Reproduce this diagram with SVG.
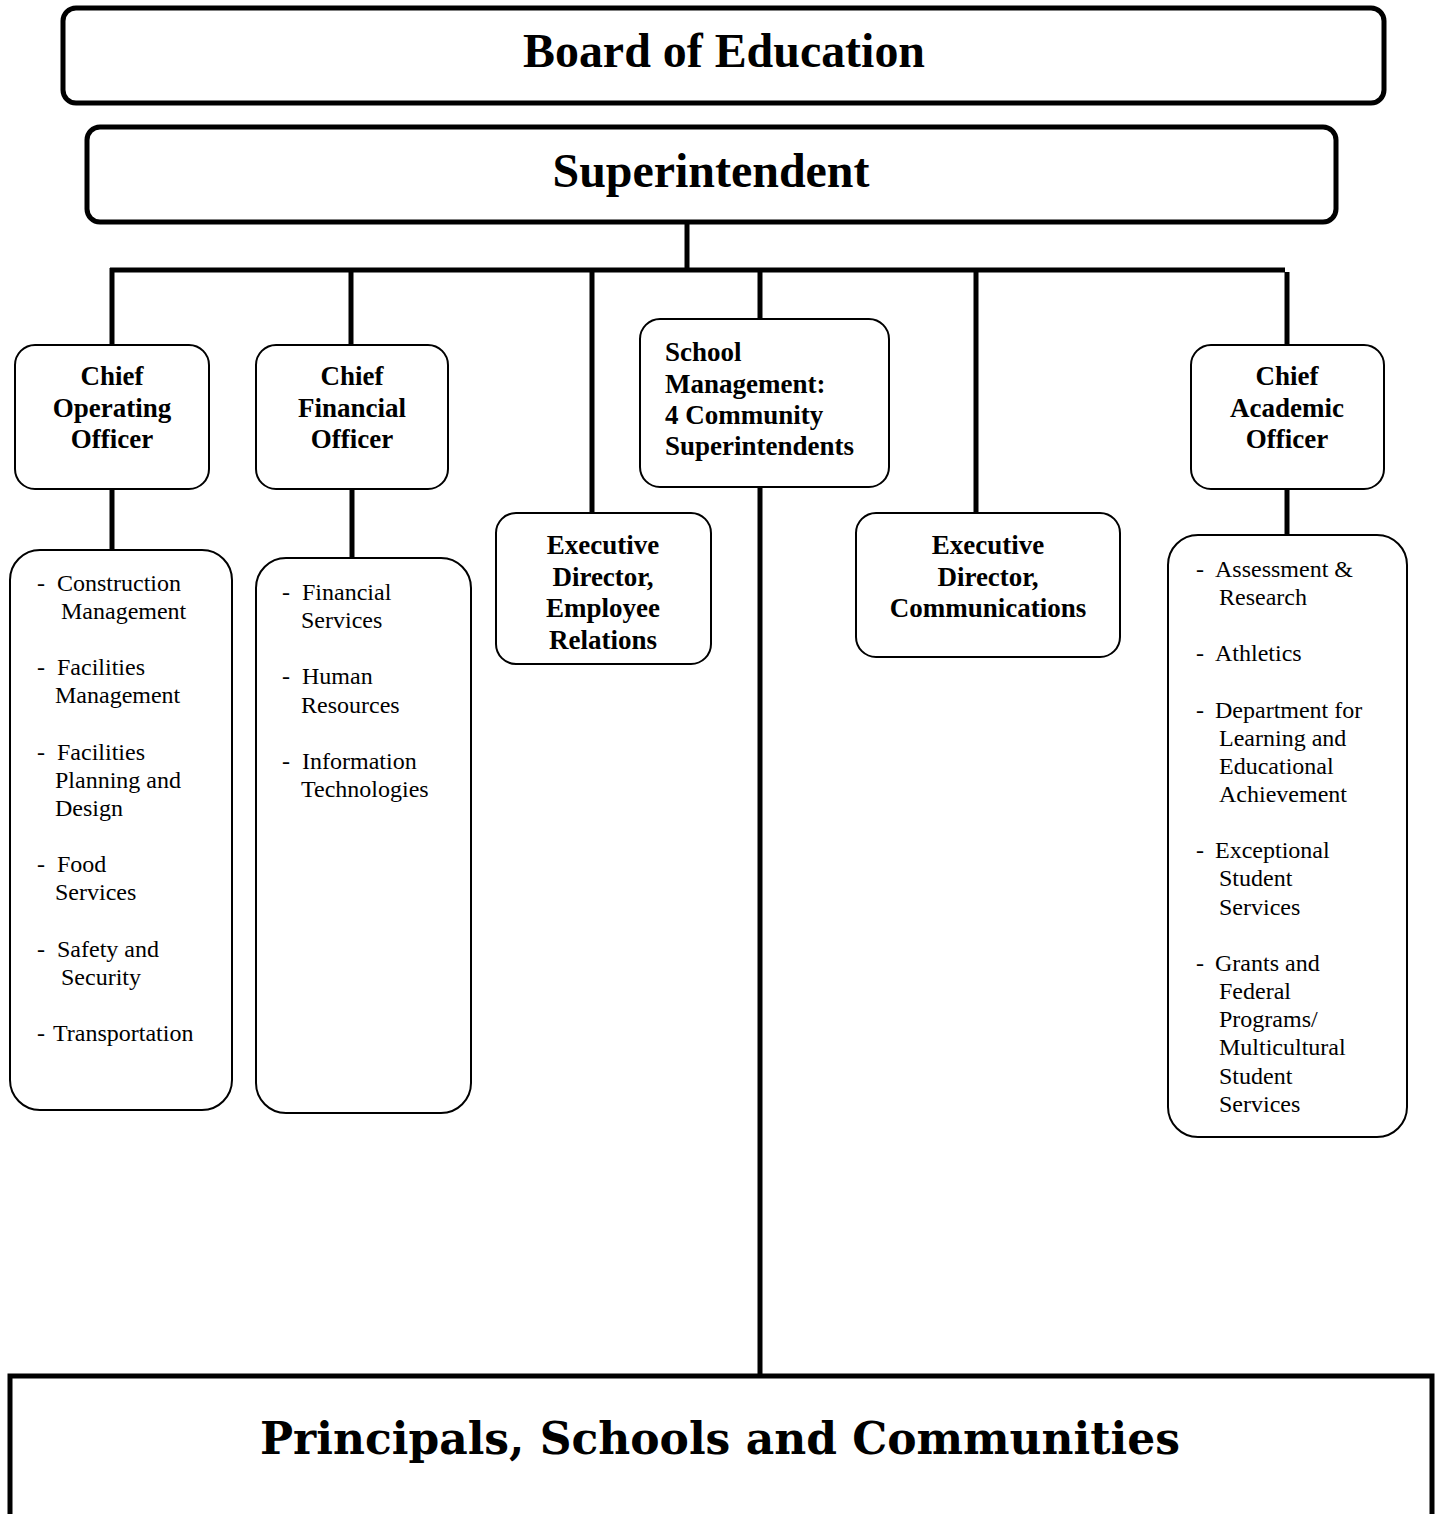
<svg xmlns="http://www.w3.org/2000/svg" width="1439" height="1514" viewBox="0 0 1439 1514">
<style>
.big{fill:#fff;stroke:#000;stroke-width:5}
.box{fill:#fff;stroke:#000;stroke-width:2}
.conn line{stroke:#000;stroke-width:5}
.t1{font-family:"Liberation Serif",serif;font-weight:bold;text-anchor:middle}
.tb{font-family:"Liberation Serif",serif;font-weight:bold;font-size:27px}
.tl{font-family:"Liberation Serif",serif;font-size:24px}
.tc{text-anchor:middle}
</style>
<rect width="1439" height="1514" fill="#fff"/>
<g class="conn" id="connectors">
<line x1="687" y1="222" x2="687" y2="272"/>
<line x1="110" y1="270" x2="1285" y2="270"/>
<line x1="112" y1="268" x2="112" y2="346"/>
<line x1="351" y1="270" x2="351" y2="346"/>
<line x1="592" y1="270" x2="592" y2="514"/>
<line x1="760" y1="270" x2="760" y2="320"/>
<line x1="976" y1="270" x2="976" y2="514"/>
<line x1="1287" y1="272" x2="1287" y2="346"/>
<line x1="112" y1="488" x2="112" y2="551"/>
<line x1="352" y1="488" x2="352" y2="559"/>
<line x1="1287" y1="488" x2="1287" y2="536"/>
<line x1="760" y1="486" x2="760" y2="1376"/>
</g>
<g id="board">
<rect class="big" x="63" y="8" width="1321" height="95" rx="13"/>
<text class="t1" x="724" y="67" font-size="48" textLength="402" lengthAdjust="spacingAndGlyphs">Board of Education</text>
</g>
<g id="superintendent">
<rect class="big" x="87" y="127" width="1249" height="95" rx="13"/>
<text class="t1" x="711" y="187" font-size="48" textLength="317" lengthAdjust="spacingAndGlyphs">Superintendent</text>
</g>
<g id="coo">
<rect class="box" x="15" y="345" width="194" height="144" rx="20"/>
<text class="tb tc"><tspan x="112" y="385">Chief</tspan><tspan x="112" y="417">Operating</tspan><tspan x="112" y="448">Officer</tspan></text>
</g>
<g id="cfo">
<rect class="box" x="256" y="345" width="192" height="144" rx="20"/>
<text class="tb tc"><tspan x="352" y="385">Chief</tspan><tspan x="352" y="417">Financial</tspan><tspan x="352" y="448">Officer</tspan></text>
</g>
<g id="school-management">
<rect class="box" x="640" y="319" width="249" height="168" rx="20"/>
<text class="tb"><tspan x="665" y="361">School</tspan><tspan x="665" y="393">Management:</tspan><tspan x="665" y="424">4 Community</tspan><tspan x="665" y="455">Superintendents</tspan></text>
</g>
<g id="cao">
<rect class="box" x="1191" y="345" width="193" height="144" rx="20"/>
<text class="tb tc"><tspan x="1287" y="385">Chief</tspan><tspan x="1287" y="417">Academic</tspan><tspan x="1287" y="448">Officer</tspan></text>
</g>
<g id="employee-relations">
<rect class="box" x="496" y="513" width="215" height="151" rx="20"/>
<text class="tb tc"><tspan x="603" y="554">Executive</tspan><tspan x="603" y="586">Director,</tspan><tspan x="603" y="617">Employee</tspan><tspan x="603" y="649">Relations</tspan></text>
</g>
<g id="communications">
<rect class="box" x="856" y="513" width="264" height="144" rx="20"/>
<text class="tb tc"><tspan x="988" y="554">Executive</tspan><tspan x="988" y="586">Director,</tspan><tspan x="988" y="617">Communications</tspan></text>
</g>
<g id="coo-list">
<rect class="box" x="10" y="550" width="222" height="560" rx="30"/>
<text class="tl">
<tspan x="37" y="591">-</tspan><tspan x="57" y="591">Construction</tspan><tspan x="61" y="619">Management</tspan>
<tspan x="37" y="675">-</tspan><tspan x="57" y="675">Facilities</tspan><tspan x="55" y="703">Management</tspan>
<tspan x="37" y="760">-</tspan><tspan x="57" y="760">Facilities</tspan><tspan x="55" y="788">Planning and</tspan><tspan x="55" y="816">Design</tspan>
<tspan x="37" y="872">-</tspan><tspan x="57" y="872">Food</tspan><tspan x="55" y="900">Services</tspan>
<tspan x="37" y="957">-</tspan><tspan x="57" y="957">Safety and</tspan><tspan x="61" y="985">Security</tspan>
<tspan x="37" y="1041">-</tspan><tspan x="53" y="1041">Transportation</tspan>
</text>
</g>
<g id="cfo-list">
<rect class="box" x="256" y="558" width="215" height="555" rx="30"/>
<text class="tl">
<tspan x="282" y="600">-</tspan><tspan x="302" y="600">Financial</tspan><tspan x="301" y="628">Services</tspan>
<tspan x="282" y="684">-</tspan><tspan x="302" y="684">Human</tspan><tspan x="301" y="713">Resources</tspan>
<tspan x="282" y="769">-</tspan><tspan x="302" y="769">Information</tspan><tspan x="301" y="797">Technologies</tspan>
</text>
</g>
<g id="cao-list">
<rect class="box" x="1168" y="535" width="239" height="602" rx="30"/>
<text class="tl">
<tspan x="1196" y="577">-</tspan><tspan x="1215" y="577">Assessment &amp;</tspan><tspan x="1219" y="605">Research</tspan>
<tspan x="1196" y="661">-</tspan><tspan x="1215" y="661">Athletics</tspan>
<tspan x="1196" y="718">-</tspan><tspan x="1215" y="718">Department for</tspan><tspan x="1219" y="746">Learning and</tspan><tspan x="1219" y="774">Educational</tspan><tspan x="1219" y="802">Achievement</tspan>
<tspan x="1196" y="858">-</tspan><tspan x="1215" y="858">Exceptional</tspan><tspan x="1219" y="886">Student</tspan><tspan x="1219" y="915">Services</tspan>
<tspan x="1196" y="971">-</tspan><tspan x="1215" y="971">Grants and</tspan><tspan x="1219" y="999">Federal</tspan><tspan x="1219" y="1027">Programs/</tspan><tspan x="1219" y="1055">Multicultural</tspan><tspan x="1219" y="1084">Student</tspan><tspan x="1219" y="1112">Services</tspan>
</text>
</g>
<g id="principals">
<rect class="big" x="10" y="1376" width="1422" height="150"/>
<text x="720" y="1454" font-family="'DejaVu Serif',serif" font-weight="bold" font-size="45" text-anchor="middle" textLength="920" lengthAdjust="spacingAndGlyphs">Principals, Schools and Communities</text>
</g>
</svg>
